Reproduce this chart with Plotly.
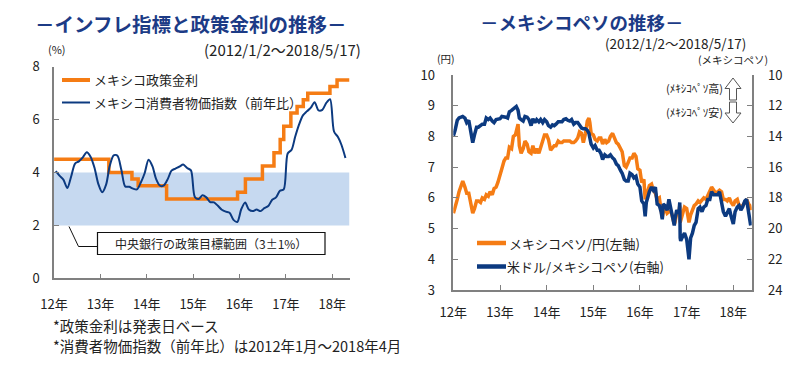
import plotly.graph_objects as go

# ---------------- data ----------------
year_ticks = ["2012-01-01", "2013-01-01", "2014-01-01", "2015-01-01",
              "2016-01-01", "2017-01-01", "2018-01-01"]
year_labels = ["12年", "13年", "14年", "15年", "16年", "17年", "18年"]

# Mexico policy rate (step, announcement dates)
rate_dates = ["2012-01-02", "2013-03-08", "2013-09-06", "2013-10-25", "2014-06-06",
              "2015-12-17", "2016-02-17", "2016-06-30", "2016-09-29", "2016-11-17",
              "2016-12-15", "2017-02-09", "2017-03-30", "2017-05-18", "2017-06-22",
              "2017-12-14", "2018-02-08", "2018-05-17"]
rate_vals = [4.5, 4.0, 3.75, 3.5, 3.0, 3.25, 3.75, 4.25, 4.75, 5.25,
             5.75, 6.25, 6.5, 6.75, 7.0, 7.25, 7.5, 7.5]

# Mexico CPI y/y, Jan 2012 - Apr 2018
cpi_months = [f"{y}-{m:02d}-15" for y in range(2012, 2019) for m in range(1, 13)][:76]
cpi_vals = [4.05, 3.87, 3.73, 3.41, 3.85, 4.34, 4.42, 4.57, 4.77, 4.60, 4.18, 3.57,
            3.25, 3.55, 4.25, 4.65, 4.63, 4.09, 3.47, 3.46, 3.39, 3.36, 3.62, 3.97,
            4.48, 4.23, 3.76, 3.50, 3.51, 3.75, 4.07, 4.15, 4.22, 4.30, 4.17, 4.08,
            3.07, 3.00, 3.14, 3.06, 2.88, 2.87, 2.74, 2.59, 2.52, 2.48, 2.21, 2.13,
            2.61, 2.87, 2.60, 2.54, 2.60, 2.54, 2.65, 2.73, 2.97, 3.06, 3.31, 3.36,
            4.72, 4.86, 5.35, 5.82, 6.16, 6.31, 6.44, 6.66, 6.35, 6.37, 6.63, 6.77,
            5.55, 5.34, 5.04, 4.55]

target_low, target_high = 2, 4

# FX series
fx_dates = [
    "2012-01-02", "2012-01-15", "2012-02-01", "2012-02-15", "2012-03-01", "2012-03-15",
    "2012-04-01", "2012-04-15", "2012-05-01", "2012-05-15", "2012-06-01", "2012-06-15",
    "2012-07-01", "2012-07-15", "2012-08-01", "2012-08-15", "2012-09-01", "2012-09-15",
    "2012-10-01", "2012-10-15", "2012-11-01", "2012-11-15", "2012-12-01", "2012-12-15",
    "2013-01-01", "2013-01-15", "2013-02-01", "2013-02-15", "2013-03-01", "2013-03-15",
    "2013-04-01", "2013-04-15", "2013-05-01", "2013-05-08", "2013-05-22", "2013-06-01",
    "2013-06-15", "2013-07-01", "2013-07-15", "2013-08-01", "2013-08-15", "2013-09-01",
    "2013-09-15", "2013-10-01", "2013-10-15", "2013-11-01", "2013-11-15", "2013-12-01",
    "2013-12-15",
    "2014-01-01", "2014-01-15", "2014-02-01", "2014-02-15", "2014-03-01", "2014-03-15",
    "2014-04-01", "2014-04-15", "2014-05-01", "2014-05-15", "2014-06-01", "2014-06-15",
    "2014-07-01", "2014-07-15", "2014-08-01", "2014-08-15", "2014-09-01", "2014-09-15",
    "2014-10-01", "2014-10-15", "2014-11-01", "2014-11-15", "2014-11-28", "2014-12-05",
    "2014-12-15",
    "2015-01-01", "2015-01-15", "2015-02-01", "2015-02-15", "2015-03-01", "2015-03-15",
    "2015-04-01", "2015-04-15", "2015-05-01", "2015-05-15", "2015-06-01", "2015-06-15",
    "2015-07-01", "2015-07-15", "2015-08-01", "2015-08-15", "2015-09-01", "2015-09-15",
    "2015-10-01", "2015-10-15", "2015-11-01", "2015-11-15", "2015-12-01", "2015-12-15",
    "2016-01-01", "2016-01-15", "2016-02-01", "2016-02-11", "2016-02-20", "2016-03-01",
    "2016-03-15", "2016-04-01", "2016-04-15", "2016-05-01", "2016-05-15", "2016-06-01",
    "2016-06-15", "2016-06-24", "2016-07-01", "2016-07-15", "2016-08-01", "2016-08-15",
    "2016-09-01", "2016-09-15", "2016-09-26", "2016-10-01", "2016-10-15", "2016-11-01",
    "2016-11-08", "2016-11-11", "2016-11-15", "2016-12-01", "2016-12-15",
    "2017-01-01", "2017-01-11", "2017-01-19", "2017-02-01", "2017-02-15", "2017-03-01",
    "2017-03-15", "2017-04-01", "2017-04-15", "2017-05-01", "2017-05-15", "2017-06-01",
    "2017-06-15", "2017-07-01", "2017-07-15", "2017-08-01", "2017-08-15", "2017-09-01",
    "2017-09-15", "2017-10-01", "2017-10-15", "2017-11-01", "2017-11-15", "2017-12-01",
    "2017-12-15",
    "2018-01-01", "2018-01-15", "2018-02-01", "2018-02-15", "2018-03-01", "2018-03-15",
    "2018-04-01", "2018-04-15", "2018-05-01", "2018-05-10", "2018-05-17",
]

mxnjpy = [
    5.5, 5.75, 5.95, 6.2, 6.4, 6.55, 6.35, 6.15, 6.15, 5.8, 5.5, 5.65,
    5.9, 5.9, 5.85, 6.0, 5.95, 6.1, 6.05, 6.2, 6.1, 6.3, 6.35, 6.5,
    6.7, 6.95, 7.2, 7.3, 7.3, 7.65, 7.6, 8.0, 8.05, 8.2, 8.4, 7.7,
    7.45, 7.6, 7.85, 7.75, 7.5, 7.45, 7.7, 7.45, 7.6, 7.45, 7.65, 7.9, 8.05,
    8.05, 7.9, 7.55, 7.65, 7.7, 7.7, 7.85, 7.8, 7.8, 7.85, 7.85, 7.85,
    7.85, 7.8, 7.8, 7.85, 7.95, 8.15, 8.1, 7.8, 8.1, 8.5, 8.6, 8.45, 8.1,
    8.05, 7.9, 7.85, 7.95, 7.95, 7.75, 7.9, 7.8, 7.85, 8.0, 8.1, 7.95,
    7.8, 7.75, 7.6, 7.5, 7.05, 7.0, 7.15, 7.3, 7.3, 7.45, 7.35, 6.95,
    6.9, 6.5, 6.6, 5.95, 6.15, 6.2, 6.4, 6.45, 6.25, 6.15, 5.95, 6.0,
    5.6, 5.35, 5.5, 5.7, 5.5, 5.55, 5.55, 5.3, 5.15, 5.2, 5.5, 5.5,
    5.75, 5.2, 5.25, 5.5, 5.7,
    5.65, 5.4, 5.2, 5.45, 5.6, 5.75, 5.8, 5.9, 5.85, 5.95, 6.0, 5.95,
    6.1, 6.25, 6.35, 6.25, 6.15, 6.2, 6.25, 6.2, 5.95, 5.95, 5.9, 6.0, 5.85,
    5.75, 5.9, 5.95, 5.75, 5.7, 5.75, 5.85, 5.95, 5.8, 5.75, 5.6,
]

usdmxn = [
    13.95, 13.6, 12.95, 12.8, 12.75, 12.7, 12.8, 13.1, 12.95, 13.6, 14.4, 13.9,
    13.4, 13.4, 13.3, 13.2, 13.2, 12.8, 12.9, 12.8, 13.0, 13.1, 12.9, 12.85,
    12.85, 12.7, 12.7, 12.75, 12.8, 12.4, 12.3, 12.2, 12.15, 12.05, 12.3, 12.8,
    12.9, 13.0, 12.7, 12.75, 12.9, 13.3, 12.85, 13.1, 12.9, 13.05, 12.9, 13.1, 12.9,
    13.05, 13.3, 13.4, 13.25, 13.3, 13.2, 13.05, 13.05, 13.05, 12.9, 12.85, 12.95,
    13.0, 12.9, 13.2, 13.1, 13.1, 13.25, 13.45, 13.5, 13.5, 13.6, 13.8, 14.1, 14.5,
    14.75, 14.6, 14.9, 14.9, 15.1, 15.5, 15.2, 15.3, 15.3, 15.2, 15.4, 15.5,
    15.8, 15.9, 16.2, 16.4, 16.8, 16.9, 16.9, 16.4, 16.5, 16.7, 16.6, 17.1,
    17.3, 18.2, 18.4, 19.2, 18.3, 18.0, 17.6, 17.3, 17.5, 17.3, 18.4, 18.5,
    18.9, 19.4, 18.4, 18.5, 18.8, 18.1, 18.8, 19.4, 19.8, 19.4, 18.8, 19.0,
    18.3, 20.6, 20.8, 20.5, 20.3,
    20.7, 21.3, 22.0, 20.6, 20.3, 19.8, 19.6, 18.7, 18.6, 18.9, 18.6, 18.5,
    18.1, 18.1, 17.6, 17.8, 17.8, 17.8, 17.6, 18.2, 18.9, 19.2, 19.0, 18.7, 19.2,
    19.7, 18.9, 18.6, 18.5, 18.8, 18.6, 18.2, 18.1, 18.8, 19.3, 19.8,
]

assert len(fx_dates) == len(mxnjpy) == len(usdmxn)

# ---------------- styling ----------------
# the page body has an 8px margin, so the figure is 792x360 and offset by 8px
OFF = 8
W, H = 800 - OFF, 368 - OFF
ORANGE2 = "#f57c14"
NAVY = "#0c3a80"
TITLE_C = "#1c3b86"
AXIS_C = "#808080"
TXT = "#222222"
FONT = "Noto Sans CJK JP"


def px(x):
    return (x - OFF) / W


def py(y):
    return 1 - (y - OFF) / H


fig = go.Figure()

# left chart traces
fig.add_trace(go.Scatter(x=rate_dates, y=rate_vals, mode="lines", line_shape="hv",
                         line=dict(color=ORANGE2, width=3.5), xaxis="x", yaxis="y",
                         showlegend=False, hoverinfo="skip"))
fig.add_trace(go.Scatter(x=cpi_months, y=cpi_vals, mode="lines", line_shape="spline",
                         line=dict(color=NAVY, width=2, smoothing=0.8), xaxis="x", yaxis="y",
                         showlegend=False, hoverinfo="skip"))

# right chart traces
fig.add_trace(go.Scatter(x=fx_dates, y=mxnjpy, mode="lines",
                         line=dict(color=ORANGE2, width=3.5), xaxis="x2", yaxis="y2",
                         showlegend=False, hoverinfo="skip"))
fig.add_trace(go.Scatter(x=fx_dates, y=usdmxn, mode="lines",
                         line=dict(color=NAVY, width=3.5), xaxis="x2", yaxis="y3",
                         showlegend=False, hoverinfo="skip"))

tickfont = dict(family=FONT, size=13, color=TXT)
common_axis = dict(showgrid=False, zeroline=False, showline=True, linecolor=AXIS_C,
                   linewidth=1.5, ticks="inside", ticklen=5, tickcolor=AXIS_C,
                   tickwidth=1.2, tickfont=tickfont, automargin=False)

shapes = [
    # target band
    dict(type="rect", xref="x", yref="y", x0="2012-01-01", x1="2018-05-17",
         y0=target_low, y1=target_high, fillcolor="#c6d9f0", line=dict(width=0),
         layer="below"),
    # callout box
    dict(type="rect", xref="paper", yref="paper", x0=px(97.5), x1=px(325),
         y0=py(254.5), y1=py(232.5), fillcolor="white",
         line=dict(color="#111111", width=1.2)),
    # leader line
    dict(type="path", xref="paper", yref="paper",
         path=f"M {px(69)},{py(226.5)} L {px(78.5)},{py(246.5)} L {px(97.5)},{py(246.5)}",
         line=dict(color="#111111", width=1)),
    # left legend lines
    dict(type="line", xref="paper", yref="paper", x0=px(62), x1=px(90),
         y0=py(80), y1=py(80), line=dict(color=ORANGE2, width=4)),
    dict(type="line", xref="paper", yref="paper", x0=px(62), x1=px(90),
         y0=py(102.5), y1=py(102.5), line=dict(color=NAVY, width=2)),
    # right legend lines
    dict(type="line", xref="paper", yref="paper", x0=px(477), x1=px(506),
         y0=py(243), y1=py(243), line=dict(color=ORANGE2, width=4.5)),
    dict(type="line", xref="paper", yref="paper", x0=px(477), x1=px(506),
         y0=py(266.5), y1=py(266.5), line=dict(color=NAVY, width=4.5)),
    # up arrow
    dict(type="path", xref="paper", yref="paper",
         path=(f"M {px(733)},{py(78)} L {px(741)},{py(88.5)} L {px(736.5)},{py(88.5)} "
               f"L {px(736.5)},{py(100)} L {px(729.5)},{py(100)} L {px(729.5)},{py(88.5)} "
               f"L {px(725)},{py(88.5)} Z"),
         fillcolor="white", line=dict(color="#555555", width=1)),
    # down arrow
    dict(type="path", xref="paper", yref="paper",
         path=(f"M {px(729.5)},{py(102)} L {px(736.5)},{py(102)} L {px(736.5)},{py(113)} "
               f"L {px(741)},{py(113)} L {px(733)},{py(123)} L {px(725)},{py(113)} "
               f"L {px(729.5)},{py(113)} Z"),
         fillcolor="white", line=dict(color="#555555", width=1)),
]


def ann(text, x, y, size=13, xanchor="left", color=TXT, bold=False, yanchor="middle"):
    if bold:
        text = f"<b>{text}</b>"
    return dict(text=text, x=px(x), y=py(y), xref="paper", yref="paper",
                xanchor=xanchor, yanchor=yanchor, showarrow=False, borderpad=0,
                font=dict(family=FONT, size=size, color=color))


annotations = [
    ann("－インフレ指標と政策金利の推移－", 190, 8, size=19.5, xanchor="center",
        color=TITLE_C, bold=True, yanchor="top"),
    ann("－メキシコペソの推移－", 582, 8, size=18.5, xanchor="center",
        color=TITLE_C, bold=True, yanchor="top"),
    ann("(%)", 57, 49, size=11, xanchor="center"),
    ann("(2012/1/2～2018/5/17)", 362, 49, size=15, xanchor="right"),
    ann("(2012/1/2～2018/5/17)", 747, 43.5, size=13.5, xanchor="right"),
    ann("(円)", 446, 59, size=10.5, xanchor="center"),
    ann("(メキシコペソ)", 733, 60, size=10.5, xanchor="center"),
    ann("メキシコ政策金利", 93, 80, size=13),
    ann("メキシコ消費者物価指数（前年比）", 93, 102.5, size=13),
    ann("中央銀行の政策目標範囲（3±1%）", 211, 243.5, size=12, xanchor="center"),
    ann("メキシコペソ/円(左軸)", 508, 243, size=13),
    ann("米ドル/メキシコペソ(右軸)", 506, 266.5, size=13),
    ann("(ﾒｷｼｺﾍﾟｿ高)", 724, 88, size=11, xanchor="right"),
    ann("(ﾒｷｼｺﾍﾟｿ安)", 724, 112, size=11, xanchor="right"),
    ann("*政策金利は発表日ベース", 52, 325, size=14.5),
    ann("*消費者物価指数（前年比）は2012年1月～2018年4月", 52, 345.5, size=14.5),
]

fig.update_layout(
    width=W, height=H, margin=dict(l=0, r=0, t=0, b=0, pad=0, autoexpand=False),
    paper_bgcolor="white", plot_bgcolor="rgba(0,0,0,0)",
    showlegend=False,
    font=dict(family=FONT, color=TXT),
    xaxis=dict(domain=[px(54), px(349.5)], range=["2012-01-01", "2018-05-17"],
               tickvals=year_ticks, ticktext=year_labels, anchor="y",
               ticklabelstandoff=13, **common_axis),
    yaxis=dict(domain=[py(278.3), py(66.7)], range=[0, 8], dtick=2, anchor="x",
               ticklabelstandoff=10, **common_axis),
    xaxis2=dict(domain=[px(453.3), px(751.7)], range=["2012-01-01", "2018-05-25"],
                tickvals=year_ticks, ticktext=year_labels, anchor="y2",
                ticklabelstandoff=10, **common_axis),
    yaxis2=dict(domain=[py(290), py(75)], range=[3, 10], dtick=1, anchor="x2",
                ticklabelstandoff=14, **common_axis),
    yaxis3=dict(range=[24, 10], dtick=2, anchor="x2", overlaying="y2", side="right",
                ticklabelstandoff=12, **common_axis),
    shapes=shapes,
    annotations=annotations,
)

fig.write_html("out.html")
